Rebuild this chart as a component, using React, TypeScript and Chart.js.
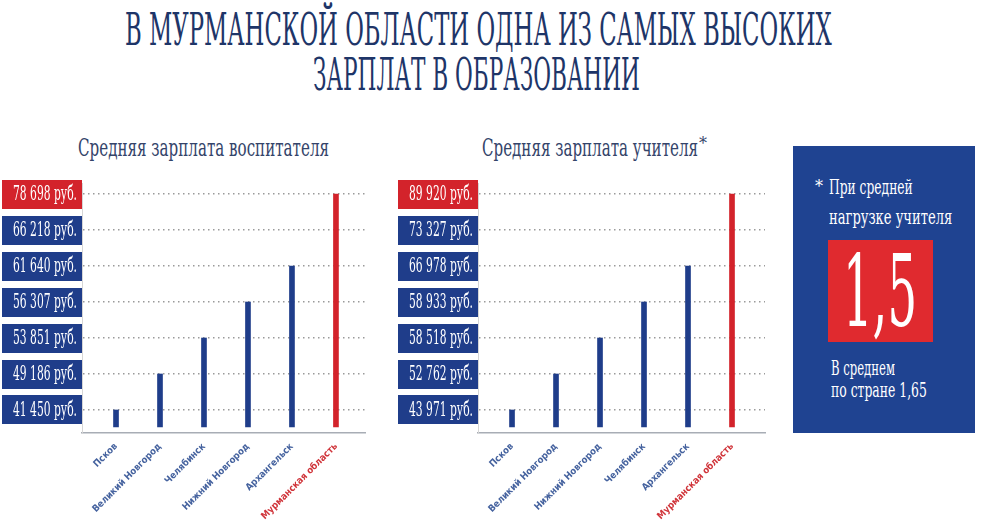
import React, { useEffect, useLayoutEffect, useRef } from 'react';
import { Chart, registerables } from 'chart.js';

Chart.register(...registerables);

// ---------- data ----------
const titleLines = ['В МУРМАНСКОЙ ОБЛАСТИ ОДНА ИЗ САМЫХ ВЫСОКИХ', 'ЗАРПЛАТ В ОБРАЗОВАНИИ'];

const kgTitle = 'Средняя зарплата воспитателя';
const kgCategories = ['Псков', 'Великий Новгород', 'Челябинск', 'Нижний Новгород', 'Архангельск', 'Мурманская область'];
const kgValues = [41450, 49186, 53851, 56307, 61640, 78698];
const kgTicks = [41450, 49186, 53851, 56307, 61640, 66218, 78698];

const schoolTitle = 'Средняя зарплата учителя';
const schoolCategories = ['Псков', 'Великий Новгород', 'Нижний Новгород', 'Челябинск', 'Архангельск', 'Мурманская область'];
const schoolValues = [43971, 52762, 58518, 58933, 66978, 89920];
const schoolTicks = [43971, 52762, 58518, 58933, 66978, 73327, 89920];

const noteLines = ['При средней', 'нагрузке учителя'];
const loadValue = '1,5';
const avgLines = ['В среднем', 'по стране 1,65'];

// ---------- styles ----------
const BLUE = '#1f3d8a';
const RED = '#d3232b';
const LABEL_BLUE = '#46639f';
const TITLE_COLOR = '#1e3568';
const SERIF = '"DejaVu Serif", "Liberation Serif", serif';
const NARROW = '"DejaVu Sans Condensed", "Liberation Sans Narrow", "DejaVu Sans", sans-serif';

function fmt(v: number): string {
  return String(v).replace(/\B(?=(\d{3})+(?!\d))/g, ' ') + ' руб.';
}

const tickBoxes = {
  id: 'tickBoxes',
  afterDraw(chart: any, _args: any, opts: any) {
    const { ctx, chartArea } = chart;
    const y = chart.scales.y;
    const labels: string[] = opts.labels || [];
    ctx.save();
    ctx.font = '20px ' + SERIF;
    const sx = 64 / ctx.measureText('41 450 руб.').width;
    labels.forEach((lab, i) => {
      const py = y.getPixelForValue(i + 1);
      const left = opts.left;
      const right = chartArea.left;
      ctx.fillStyle = i === labels.length - 1 ? RED : BLUE;
      ctx.fillRect(left, Math.round(py - 14.5), right - left, 29);
      ctx.save();
      ctx.translate(right - 5, py + 1);
      ctx.scale(sx, 1);
      ctx.fillStyle = '#ffffff';
      ctx.textAlign = 'right';
      ctx.textBaseline = 'middle';
      ctx.fillText(lab, 0, 0);
      ctx.restore();
    });
    ctx.restore();
  },
};

function makeConfig(categories: string[], values: number[], ticks: number[], yWidth: number, boxLeft: number, padRight: number, xMax: number): any {
  const levels = values.map((v) => ticks.indexOf(v) + 1);
  const last = categories.length - 1;
  return {
    type: 'bar',
    data: {
      datasets: [
        {
          data: levels.map((l, i) => ({ x: i, y: l })),
          backgroundColor: categories.map((_, i) => (i === last ? RED : BLUE)),
          barThickness: 5,
          base: 0.53,
          borderWidth: 0,
        },
      ],
    },
    options: {
      responsive: false,
      animation: false,
      layout: { padding: { top: 13, right: padRight, left: 0, bottom: 0 } },
      plugins: {
        legend: { display: false },
        tooltip: { enabled: false },
        tickBoxes: { labels: ticks.map(fmt), left: boxLeft },
      },
      scales: {
        x: {
          type: 'linear',
          offset: false,
          min: -0.773,
          max: xMax,
          afterBuildTicks: (s: any) => {
            s.ticks = categories.map((_, i) => ({ value: i }));
          },
          afterFit: (s: any) => {
            s.height = 91;
          },
          grid: { display: false },
          border: { display: true, color: '#a8adb5', width: 1.5 },
          ticks: {
            autoSkip: false,
            minRotation: 45,
            maxRotation: 45,
            padding: 0,
            font: { family: NARROW, size: 9.5, weight: 'bold' },
            color: (c: any) => (c.index === last ? '#d0343a' : LABEL_BLUE),
            callback: (v: any) => categories[v] ?? '',
          },
        },
        y: {
          type: 'linear',
          min: 0.361,
          max: 7.306,
          afterBuildTicks: (s: any) => {
            s.ticks = ticks.map((_, i) => ({ value: i + 1 }));
          },
          afterFit: (s: any) => {
            s.width = yWidth;
          },
          ticks: { display: false },
          grid: { color: '#9a9a9a', lineWidth: 1.5, drawTicks: false },
          border: { display: true, color: '#d6d6d6', width: 1, dash: [1.5, 3.5] },
        },
      },
    },
    plugins: [tickBoxes],
  };
}

function FitText(props: { text: string; left: number; top: number; width: number; size: number; color: string; family?: string }) {
  const ref = useRef<HTMLSpanElement>(null);
  useLayoutEffect(() => {
    const el = ref.current;
    if (!el) return;
    el.style.transform = 'none';
    const w = el.offsetWidth;
    if (w > 0) el.style.transform = `scaleX(${props.width / w})`;
  });
  return (
    <span
      ref={ref}
      style={{
        position: 'absolute',
        left: props.left,
        top: props.top,
        fontSize: props.size,
        lineHeight: 1,
        color: props.color,
        fontFamily: props.family || SERIF,
        whiteSpace: 'nowrap',
        transformOrigin: 'left top',
        display: 'inline-block',
      }}
    >
      {props.text}
    </span>
  );
}

export default function App() {
  const c1 = useRef<HTMLCanvasElement>(null);
  const c2 = useRef<HTMLCanvasElement>(null);

  useEffect(() => {
    const ch1 = new Chart(c1.current!, makeConfig(kgCategories, kgValues, kgTicks, 82, 2, 20, 5.66));
    const ch2 = new Chart(c2.current!, makeConfig(schoolCategories, schoolValues, schoolTicks, 88, 8, 25, 5.75));
    return () => {
      ch1.destroy();
      ch2.destroy();
    };
  }, []);

  return (
    <div style={{ position: 'fixed', left: 0, top: 0, width: 984, height: 524, background: '#ffffff', overflow: 'hidden' }}>
      <FitText text={titleLines[0]} left={125} top={8} width={707} size={44} color={TITLE_COLOR} />
      <FitText text={titleLines[1]} left={313} top={53} width={327} size={44} color={TITLE_COLOR} />

      <FitText text={kgTitle} left={78} top={136} width={251} size={24} color="#34446a" />
      <FitText text={schoolTitle} left={482} top={136} width={216} size={24} color="#34446a" />
      <span style={{ position: 'absolute', left: 699, top: 134, fontSize: 16, color: '#34446a', fontFamily: SERIF }}>*</span>

      <canvas ref={c1} width={385} height={354} style={{ position: 'absolute', left: 0, top: 170, display: 'block' }} />
      <canvas ref={c2} width={400} height={354} style={{ position: 'absolute', left: 390, top: 170, display: 'block' }} />

      <div style={{ position: 'absolute', left: 793, top: 146, width: 182, height: 287, background: '#1f4391' }}>
        <span style={{ position: 'absolute', left: 22, top: 31, color: '#fff', fontSize: 16, fontFamily: SERIF }}>*</span>
        <FitText text={noteLines[0]} left={36} top={31} width={84} size={20} color="#ffffff" />
        <FitText text={noteLines[1]} left={36} top={61} width={123} size={20} color="#ffffff" />
        <div style={{ position: 'absolute', left: 35, top: 94, width: 105, height: 102, background: '#e02a2f' }}>
          <FitText text={loadValue} left={15} top={2} width={74} size={100} color="#ffffff" />
        </div>
        <FitText text={avgLines[0]} left={38} top={212} width={64} size={20} color="#ffffff" />
        <FitText text={avgLines[1]} left={38} top={234} width={96} size={20} color="#ffffff" />
      </div>
    </div>
  );
}
